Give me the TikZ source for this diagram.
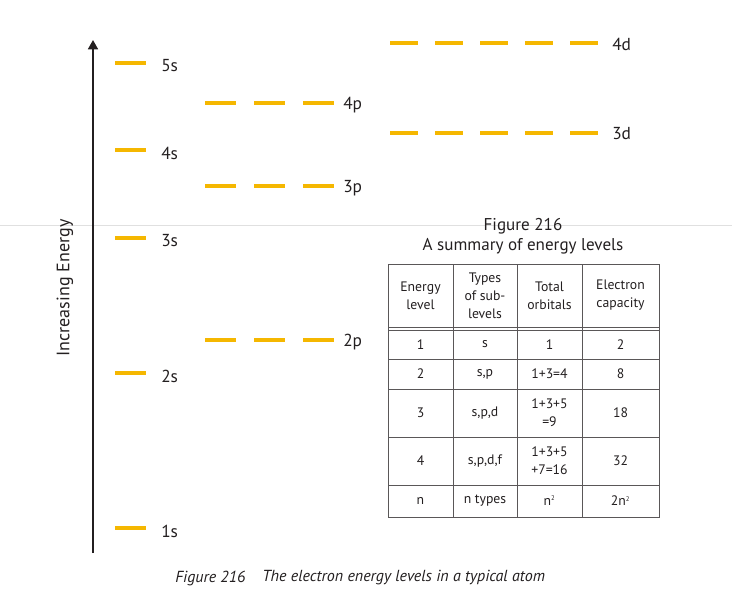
\documentclass[tikz,border=0pt]{standalone}
\usepackage{fontspec}
\setmainfont{PT Sans}
\usetikzlibrary{arrows.meta}
\definecolor{levelgold}{HTML}{F5B700}
\definecolor{inkgrey}{HTML}{231F20}
\tikzset{
    level-line/.style = {levelgold, line width=2.3pt},
    p-level/.style = {level-line, dash pattern=on 23.25pt off 13.5pt},
    d-level/.style = {level-line, dash pattern=on 20.8pt off 13pt},
    level-label/.style = {anchor=west, inner sep=0pt, text=inkgrey, font=\fontsize{13}{15}\selectfont},
    cell/.style = {align=center, inner sep=0pt, text=inkgrey, font=\fontsize{10.3}{13.5}\selectfont},
    grid-line/.style = {draw=inkgrey!75, line width=0.75pt},
}

\begin{document}
\begin{tikzpicture}[x=0.75pt, y=-0.75pt]
\useasboundingbox (0,0) rectangle (732,615);
\draw[black!12, line width=0.75pt] (0,225) -- (732,225);

% energy axis
\coordinate (axis-foot) at (93,553);
\coordinate (axis-top) at (93,40);
\draw[inkgrey, line width=1.3pt, -{Triangle[width=7.5pt,length=7pt]}] (axis-foot) -- (axis-top);
\node[rotate=90, text=inkgrey, font=\fontsize{13.5}{15}\selectfont] (axis-label) at (65,288) {Increasing Energy};

% s, p and d levels
\foreach \n/\y in {1/528, 2/373, 3/238, 4/150, 5/63} {
    \draw[level-line] (115,\y) -- (146,\y);
    \node[level-label] (s\n) at (161,\y+3) {\n s};
}
\foreach \n/\y in {2/340, 3/186, 4/103} {
    \draw[p-level] (205,\y) -- (335,\y);
    \node[level-label] (p\n) at (343,\y+2) {\n p};
}
\foreach \n/\y in {3/133, 4/43} {
    \draw[d-level] (390,\y) -- (598,\y);
    \node[level-label] (d\n) at (612,\y+1) {\n d};
}

% summary table
\node[align=center, text=inkgrey, font=\fontsize{12.8}{15}\selectfont] (table-title) at (523,236) {Figure 216\\A summary of energy levels};
\draw[grid-line] (388,264) rectangle (659,517);
\foreach \x in {453,517,582} \draw[grid-line] (\x,264) -- (\x,517);
\foreach \y in {327,330,359,389,437,485} \draw[grid-line] (388,\y) -- (659,\y);
\foreach \y/\r/\a/\b/\c/\d in {
    295.5/0/{Energy\\level}/{Types\\of sub-\\levels}/{Total\\orbitals}/{Electron\\capacity},
    344.5/1/1/s/1/2,
    374/2/2/{s,p}/{1+3=4}/8,
    413/3/3/{s,p,d}/{1+3+5\\=9}/18,
    461/4/4/{s,p,d,f}/{1+3+5\\+7=16}/32,
    501/5/n/{n types}/{n\textsuperscript{\tiny 2}}/{2n\textsuperscript{\tiny 2}}} {
    \node[cell] (r\r-1) at (420.5,\y) {\a};
    \node[cell] (r\r-2) at (485,\y) {\b};
    \node[cell] (r\r-3) at (549.5,\y) {\c};
    \node[cell] (r\r-4) at (620.5,\y) {\d};
}

% caption
\node[anchor=west, inner sep=0pt, text=inkgrey, font=\itshape\fontsize{12}{14}\selectfont] (caption-num) at (175,578) {Figure 216};
\node[anchor=west, inner sep=0pt, text=inkgrey, font=\itshape\fontsize{12}{14}\selectfont] (caption-text) at (262,578) {The electron energy levels in a typical atom};
\end{tikzpicture}
\end{document}
